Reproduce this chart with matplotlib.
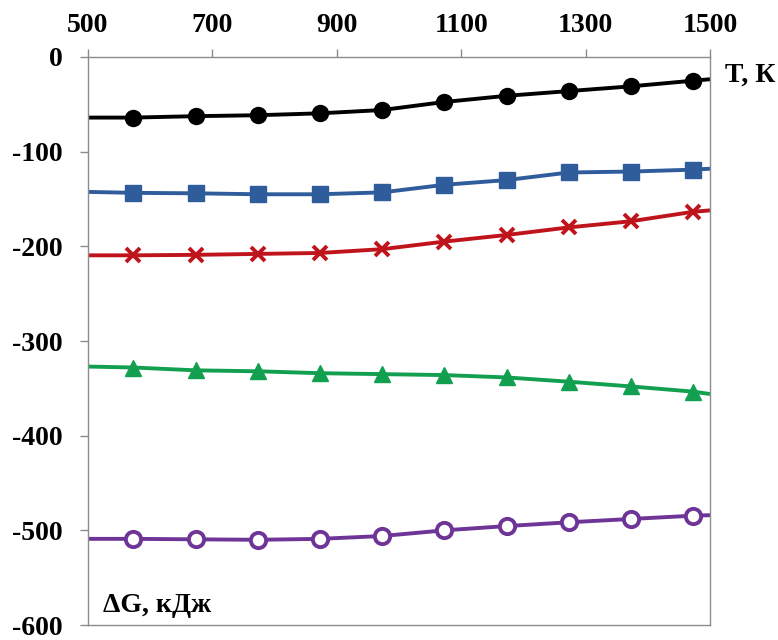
import matplotlib
matplotlib.use("Agg")
import matplotlib.pyplot as plt

plt.rcParams['font.family'] = ['Liberation Serif', 'DejaVu Serif']
plt.rcParams['font.weight'] = 'bold'
plt.rcParams['axes.unicode_minus'] = False

# Temperature grid (K); the first and last points are line ends without markers
T = [500, 573, 673, 773, 873, 973, 1073, 1173, 1273, 1373, 1473, 1500]

dG_black = [-64, -64, -62.5, -61.5, -59.5, -56, -47.5, -41, -36, -31, -25, -23.5]
dG_blue = [-142.5, -143.5, -144, -145, -145, -143, -135, -130, -122, -121, -119, -118]
dG_red = [-209.5, -209.5, -209, -208, -207, -203, -195, -188, -180, -173.5, -163.5, -162]
dG_green = [-327, -328, -331, -332, -334, -335, -336, -338.5, -343, -348, -353.5, -356]
dG_purple = [-509, -509, -509.5, -510, -509, -506, -500, -495.5, -491.5, -488, -484.5, -484]

x_ticks = [500, 700, 900, 1100, 1300, 1500]
y_ticks = [0, -100, -200, -300, -400, -500, -600]

fig = plt.figure(figsize=(7.78, 6.40), dpi=100)
ax = fig.add_axes([88 / 778, 15 / 640, 622 / 778, 568 / 640])

marked = slice(1, -1)
series = [
    (dG_black, '#000000', dict(marker='o', ms=11.5, mfc='#000000', mec='#000000')),
    (dG_blue, '#2F5C9B', dict(marker='s', ms=11, mfc='#2F5C9B', mec='#2F5C9B')),
    (dG_red, '#C0141C', dict(marker='x', ms=10, mew=2.8, mec='#C0141C')),
    (dG_green, '#12A050', dict(marker='^', ms=12, mfc='#12A050', mec='#12A050')),
    (dG_purple, '#6E3597', dict(marker='o', ms=11, mfc='white', mec='#6E3597', mew=2.8)),
]
for y, color, mk in series:
    ax.plot(T, y, color=color, lw=2.8, markevery=marked, clip_on=False,
            solid_capstyle='butt', **mk)

ax.set_xlim(500, 1500)
ax.set_ylim(-600, 0)
ax.set_xticks(x_ticks)
ax.set_yticks(y_ticks)
ax.xaxis.set_ticks_position('top')
ax.xaxis.set_label_position('top')
ax.tick_params(axis='both', direction='out', length=6, width=1, color='#8c8c8c',
               labelsize=20)
ax.tick_params(axis='x', pad=8)
ax.tick_params(axis='y', pad=12)

for side in ['left', 'right', 'top', 'bottom']:
    ax.spines[side].set_color('#8c8c8c')
    ax.spines[side].set_linewidth(1.0)

ax.text(1.024, 0.968, 'T, К', transform=ax.transAxes, fontsize=20,
        fontweight='bold', ha='left', va='center')
ax.text(0.024, 0.035, 'ΔG, кДж', transform=ax.transAxes, fontsize=20,
        fontweight='bold', ha='left', va='center')

fig.savefig('out.png', dpi=100)
